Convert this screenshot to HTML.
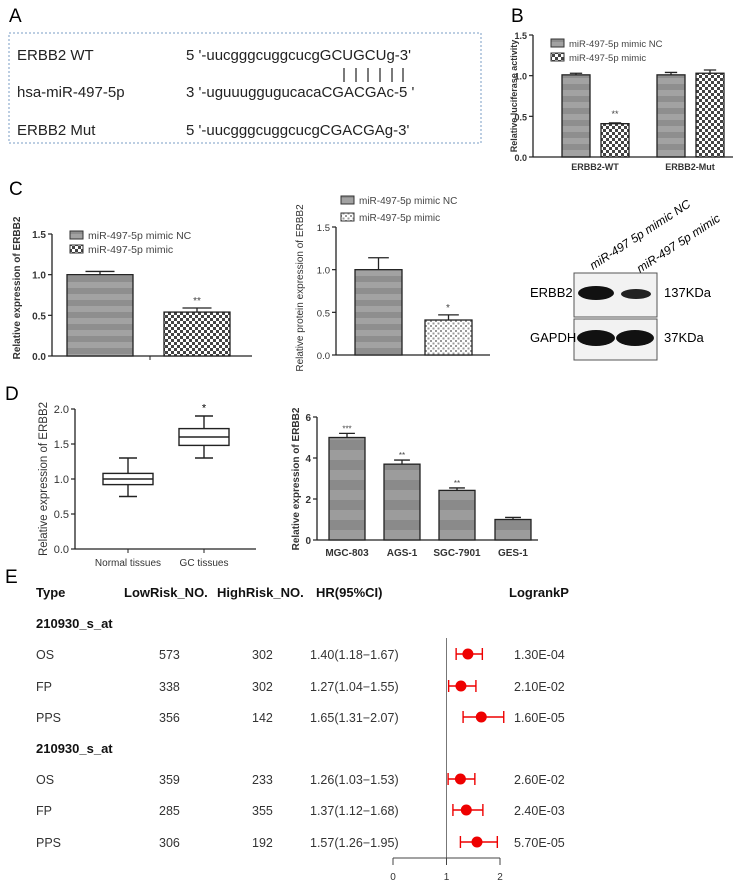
<!DOCTYPE html>
<html><head><meta charset="utf-8"><style>
html,body{margin:0;padding:0;background:#fff;}
svg{display:block;font-family:"Liberation Sans",Arial,sans-serif;}
.nar{font-family:"Liberation Sans Narrow","Liberation Sans",sans-serif;}
</style></head><body>
<svg id="fig" width="745" height="888" viewBox="0 0 745 888" xmlns="http://www.w3.org/2000/svg">
<defs>
<pattern id="ncpat" width="6" height="12" patternUnits="userSpaceOnUse"><rect width="6" height="6" fill="#8e8e8e"/><rect y="6" width="6" height="6" fill="#a2a2a2"/></pattern>
<pattern id="chk" width="6" height="6" patternUnits="userSpaceOnUse"><rect width="6" height="6" fill="#fff"/><rect width="3" height="3" fill="#444"/><rect x="3" y="3" width="3" height="3" fill="#444"/></pattern>
<pattern id="chk2" width="5" height="5" patternUnits="userSpaceOnUse"><rect width="5" height="5" fill="#fff"/><rect width="2" height="2" fill="#999"/><rect x="2.5" y="2.5" width="2" height="2" fill="#999"/></pattern>
<pattern id="dpat" width="6" height="20" patternUnits="userSpaceOnUse"><rect width="6" height="10" fill="#8a8a8a"/><rect y="10" width="6" height="10" fill="#9c9c9c"/></pattern>
</defs>

<!-- Panel A -->
<text x="9" y="22" font-size="19">A</text>
<rect x="9" y="33" width="472" height="110" fill="none" stroke="#7a9cc6" stroke-width="1" stroke-dasharray="2,2"/>
<g font-size="15" fill="#222">
<text x="17" y="60">ERBB2 WT</text>
<text x="186" y="60">5 '-uucgggcuggcucgGCUGCUg-3'</text>
<text x="17" y="97">hsa-miR-497-5p</text>
<text x="186" y="97">3 '-uguuuggugucacaCGACGAc-5 '</text>
<text x="17" y="135">ERBB2 Mut</text>
<text x="186" y="135">5 '-uucgggcuggcucgCGACGAg-3'</text>
<g stroke="#222" stroke-width="1.2">
<line x1="344" y1="68" x2="344" y2="82"/><line x1="356" y1="68" x2="356" y2="82"/><line x1="368" y1="68" x2="368" y2="82"/><line x1="380" y1="68" x2="380" y2="82"/><line x1="392" y1="68" x2="392" y2="82"/><line x1="403" y1="68" x2="403" y2="82"/>
</g></g>

<text x="511" y="22" font-size="19">B</text>
<text x="9" y="195" font-size="19">C</text>
<text x="5" y="400" font-size="19">D</text>
<text x="5" y="583" font-size="19">E</text>

<!-- Western blot -->
<g>
<text x="0" y="0" font-size="12" font-style="italic" transform="translate(593,270) rotate(-33)">miR-497 5p mimic NC</text>
<text x="0" y="0" font-size="12" font-style="italic" transform="translate(640,273) rotate(-33)">miR-497 5p mimic</text>
<rect x="574" y="273" width="83" height="44" fill="#f2f2f2" stroke="#555"/>
<rect x="574" y="319" width="83" height="41" fill="#f2f2f2" stroke="#555"/>
<ellipse cx="596" cy="293" rx="18" ry="7" fill="#111"/>
<ellipse cx="636" cy="294" rx="15" ry="5" fill="#222"/>
<ellipse cx="596" cy="338" rx="19" ry="8" fill="#111"/>
<ellipse cx="635" cy="338" rx="19" ry="8" fill="#111"/>
<text x="530" y="297" font-size="13">ERBB2</text>
<text x="530" y="342" font-size="13">GAPDH</text>
<text x="664" y="297" font-size="13">137KDa</text>
<text x="664" y="342" font-size="13">37KDa</text>
</g>
<g id="dyn"></g>
</svg>
<script>
// ---- data ----
var bCategories = ["ERBB2-WT","ERBB2-Mut"];
var bNC = [1.01, 1.01];
var bNCErr = [0.02, 0.03];
var bMimic = [0.41, 1.03];
var bMimicErr = [0.01, 0.04];
var bTicks = [0, 0.5, 1.0, 1.5];

var c1Values = [1.0, 0.54];
var c1Err = [0.04, 0.05];
var c1Stars = ["", "**"];
var c2Values = [1.0, 0.41];
var c2Err = [0.14, 0.06];
var c2Stars = ["", "*"];
var cTicks = [0, 0.5, 1.0, 1.5];

var dBoxCategories = ["Normal tissues","GC tissues"];
var dBoxMin = [0.75, 1.3];
var dBoxQ1 = [0.92, 1.48];
var dBoxMed = [1.0, 1.6];
var dBoxQ3 = [1.08, 1.72];
var dBoxMax = [1.3, 1.9];
var dBoxTicks = [0, 0.5, 1.0, 1.5, 2.0];

var dCells = ["MGC-803","AGS-1","SGC-7901","GES-1"];
var dCellValues = [5.0, 3.7, 2.42, 1.0];
var dCellErr = [0.2, 0.2, 0.12, 0.1];
var dCellStars = ["***","**","**",""];
var dCellTicks = [0, 2, 4, 6];

var eTypes = ["OS","FP","PPS","OS","FP","PPS"];
var eLow = [573, 338, 356, 359, 285, 306];
var eHigh = [302, 302, 142, 233, 355, 192];
var eHR = [1.40, 1.27, 1.65, 1.26, 1.37, 1.57];
var eLo = [1.18, 1.04, 1.31, 1.03, 1.12, 1.26];
var eHi = [1.67, 1.55, 2.07, 1.53, 1.68, 1.95];
var eP = ["1.30E-04","2.10E-02","1.60E-05","2.60E-02","2.40E-03","5.70E-05"];
var eTicks = [0, 1, 2];

var NS = "http://www.w3.org/2000/svg";
var root = document.getElementById("dyn");
function mk(tag, a, parent) {
  var e = document.createElementNS(NS, tag);
  for (var k in a) e.setAttribute(k, a[k]);
  (parent || root).appendChild(e);
  return e;
}
function txt(s, a, parent) { var e = mk("text", a, parent); e.textContent = s; return e; }
function lin(y0, y1, p0, p1) { return function (v) { return p0 + (v - y0) / (y1 - y0) * (p1 - p0); }; }

function yAxis(g, x, ys, ticks, xEnd, fs, bold, fmt) {
  var el = mk("line", {x1: x, y1: ys(ticks[ticks.length - 1]), x2: x, y2: ys(ticks[0]), stroke: "#222", "stroke-width": 1.3}, g);
  
  
  el = mk("line", {x1: x, y1: ys(ticks[0]), x2: xEnd, y2: ys(ticks[0]), stroke: "#222", "stroke-width": 1.3}, g);
  
  
  ticks.forEach(function (t) {
    var tk = mk("line", {x1: x - 4, y1: ys(t), x2: x, y2: ys(t), stroke: "#222", "stroke-width": 1.2}, g);
    
    
    var tl = txt(fmt(t), {x: x - 6, y: ys(t) + 4, "font-size": fs, "text-anchor": "end", "font-weight": bold ? "bold" : "normal", fill: "#333"}, g);
    
    
  });
}
function f1(t) { return t.toFixed(1); }
function f0(t) { return String(t); }

function bar(g, x, w, ys, v, err, fill, name) {
  var r = mk("rect", {x: x, y: ys(v), width: w, height: ys(0) - ys(v), fill: fill, stroke: "#222", "stroke-width": 1.3}, g);
  
  
  var cx = x + w / 2;
  var e = mk("path", {d: "M" + cx + " " + ys(v) + "V" + ys(v + err) + "M" + (cx - w * 0.22) + " " + ys(v + err) + "H" + (cx + w * 0.22), stroke: "#222", "stroke-width": 1.3, fill: "none"}, g);
  
  
  return r;
}
function ylabel(g, s, x, y, fs, bold) {
  var t = txt(s, {x: 0, y: 0, "font-size": fs, "font-weight": bold ? "bold" : "normal", "text-anchor": "middle", fill: "#333", transform: "translate(" + x + "," + y + ") rotate(-90)"}, g);
  
  
}
function legend(g, x, y, fill, s, fs) {
  var r = mk("rect", {x: x, y: y - 5, width: 13, height: 8, fill: fill, stroke: "#333"}, g);
  
  
  var t = txt(s, {x: x + 18, y: y + 3, "font-size": fs, fill: "#444"}, g);
  
  
}

// ---- Panel B ----
var gB = mk("g", {});


var yB = lin(0, 1.5, 157, 35);
yAxis(gB, 533, yB, bTicks, 733, 9, true, f1);
ylabel(gB, "Relative luciferase activity", 517, 96, 9, true);
var bGroupX = [562, 657];
bCategories.forEach(function (c, i) {
  bar(gB, bGroupX[i], 28, yB, bNC[i], bNCErr[i], "url(#ncpat)", "bar-nc-" + c.toLowerCase());
  bar(gB, bGroupX[i] + 39, 28, yB, bMimic[i], bMimicErr[i], "url(#chk)", "bar-mimic-" + c.toLowerCase());
  var l = txt(c, {x: bGroupX[i] + 33, y: 170, "font-size": 9, "font-weight": "bold", "text-anchor": "middle", fill: "#333"}, gB);
  
  
});
var sB = txt("**", {x: 615, y: yB(bMimic[0] + bMimicErr[0]) - 6, "font-size": 9, "text-anchor": "middle", fill: "#444"}, gB);


legend(gB, 551, 44, "url(#ncpat)", "miR-497-5p mimic NC", 9.5);
legend(gB, 551, 58, "url(#chk)", "miR-497-5p mimic", 9.5);

// ---- Panel C chart 1 ----
var gC1 = mk("g", {});


var yC1 = lin(0, 1.5, 356, 234);
yAxis(gC1, 52, yC1, cTicks, 252, 10, true, f1);
var tk = mk("line", {x1: 150, y1: 356, x2: 150, y2: 360, stroke: "#222"}, gC1);


ylabel(gC1, "Relative expression of ERBB2", 20, 288, 10, true);
var c1X = [67, 164];
var c1Fill = ["url(#ncpat)", "url(#chk)"];
c1Values.forEach(function (v, i) {
  bar(gC1, c1X[i], 66, yC1, v, c1Err[i], c1Fill[i], "bar-c1-" + i);
  if (c1Stars[i]) {
    var s = txt(c1Stars[i], {x: c1X[i] + 33, y: yC1(v + c1Err[i]) - 4, "font-size": 10, "text-anchor": "middle", fill: "#444"}, gC1);
    
    
  }
});
legend(gC1, 70, 236, "url(#ncpat)", "miR-497-5p mimic NC", 10.5);
legend(gC1, 70, 250, "url(#chk)", "miR-497-5p mimic", 10.5);

// ---- Panel C chart 2 ----
var gC2 = mk("g", {});


var yC2 = lin(0, 1.5, 355, 227);
yAxis(gC2, 336, yC2, cTicks, 490, 9.5, false, f1);
ylabel(gC2, "Relative protein expression of ERBB2", 303, 288, 10, false);
var c2X = [355, 425];
var c2Fill = ["url(#ncpat)", "url(#chk2)"];
c2Values.forEach(function (v, i) {
  bar(gC2, c2X[i], 47, yC2, v, c2Err[i], c2Fill[i], "bar-c2-" + i);
  if (c2Stars[i]) {
    var s = txt(c2Stars[i], {x: c2X[i] + 23, y: yC2(v + c2Err[i]) - 4, "font-size": 10, "text-anchor": "middle", fill: "#444"}, gC2);
    
    
  }
});
legend(gC2, 341, 201, "url(#ncpat)", "miR-497-5p mimic NC", 10);
legend(gC2, 341, 218, "url(#chk2)", "miR-497-5p mimic", 10);

// ---- Panel D box plot ----
var gD1 = mk("g", {});


var yD1 = lin(0, 2.0, 549, 409);
yAxis(gD1, 75, yD1, dBoxTicks, 256, 11, false, f1);
ylabel(gD1, "Relative expression of ERBB2", 47, 479, 11.5, false);
var dBoxX = [128, 204];
dBoxCategories.forEach(function (c, i) {
  var cx = dBoxX[i], hw = 25;
  var p = mk("path", {d: "M" + cx + " " + yD1(dBoxMax[i]) + "V" + yD1(dBoxQ3[i]) + "M" + cx + " " + yD1(dBoxQ1[i]) + "V" + yD1(dBoxMin[i]) +
    "M" + (cx - 9) + " " + yD1(dBoxMax[i]) + "H" + (cx + 9) + "M" + (cx - 9) + " " + yD1(dBoxMin[i]) + "H" + (cx + 9) +
    "M" + (cx - hw) + " " + yD1(dBoxMed[i]) + "H" + (cx + hw), stroke: "#222", "stroke-width": 1.4, fill: "none"}, gD1);
  
  
  var r = mk("rect", {x: cx - hw, y: yD1(dBoxQ3[i]), width: hw * 2, height: yD1(dBoxQ1[i]) - yD1(dBoxQ3[i]), fill: "none", stroke: "#222", "stroke-width": 1.4}, gD1);
  
  
  var t = mk("line", {x1: cx, y1: 549, x2: cx, y2: 553, stroke: "#222"}, gD1);
  
  
  var l = txt(c, {x: cx, y: 566, "font-size": 10, "text-anchor": "middle", fill: "#333"}, gD1);
  
  
});
var sD = txt("*", {x: 204, y: yD1(2.05) + 6, "font-size": 11, "text-anchor": "middle"}, gD1);



// ---- Panel D cell lines ----
var gD2 = mk("g", {});


var yD2 = lin(0, 6, 540, 417);
yAxis(gD2, 317, yD2, dCellTicks, 538, 10, true, f0);
ylabel(gD2, "Relative expression of ERBB2", 299, 479, 10, true);
var dCellX = [329, 384, 439, 495];
dCells.forEach(function (c, i) {
  bar(gD2, dCellX[i], 36, yD2, dCellValues[i], dCellErr[i], "url(#dpat)", "bar-" + c.toLowerCase());
  if (dCellStars[i]) {
    var s = txt(dCellStars[i], {x: dCellX[i] + 18, y: yD2(dCellValues[i] + dCellErr[i]) - 2, "font-size": 8, "text-anchor": "middle", fill: "#444"}, gD2);
    
    
  }
  var l = txt(c, {x: dCellX[i] + 18, y: 556, "font-size": 10, "font-weight": "bold", "text-anchor": "middle", fill: "#333"}, gD2);
  
  
});

// ---- Panel E forest plot ----
var gE = mk("g", {"class": "nar"});


var xE = lin(0, 2, 393, 500);
var rowY = [654, 686, 717, 779, 810, 842];
var heads = [["Type", 36], ["LowRisk_NO.", 124], ["HighRisk_NO.", 217], ["HR(95%CI)", 316], ["LogrankP", 509]];
heads.forEach(function (h) {
  var t = txt(h[0], {x: h[1], y: 597, "font-size": 13, "font-weight": "bold", fill: "#111"}, gE);
  
  
});
[628, 753].forEach(function (y) {
  var t = txt("210930_s_at", {x: 36, y: y, "font-size": 13, "font-weight": "bold", fill: "#111"}, gE);
  
  
});
var vl = mk("line", {x1: xE(1), y1: 638, x2: xE(1), y2: 858, stroke: "#777", "stroke-width": 1}, gE);


var ax = mk("line", {x1: xE(0), y1: 858, x2: xE(2), y2: 858, stroke: "#444", "stroke-width": 1}, gE);


eTicks.forEach(function (t) {
  var k = mk("line", {x1: xE(t), y1: 858, x2: xE(t), y2: 865, stroke: "#444"}, gE);
  
  
  var l = txt(String(t), {x: xE(t), y: 880, "font-size": 10, "text-anchor": "middle", fill: "#333"}, gE);
  
  
});
eTypes.forEach(function (ty, i) {
  var y = rowY[i];
  var cols = [[ty, 36], [String(eLow[i]), 159], [String(eHigh[i]), 252], [eHR[i].toFixed(2) + "(" + eLo[i].toFixed(2) + "\u2212" + eHi[i].toFixed(2) + ")", 310], [eP[i], 514]];
  cols.forEach(function (c) {
    var t = txt(c[0], {x: c[1], y: y + 5, "font-size": 12.5, fill: "#333"}, gE);
    
    
  });
  var ci = mk("path", {d: "M" + xE(eLo[i]) + " " + y + "H" + xE(eHi[i]) + "M" + xE(eLo[i]) + " " + (y - 6) + "V" + (y + 6) + "M" + xE(eHi[i]) + " " + (y - 6) + "V" + (y + 6), stroke: "#e00", "stroke-width": 1.4, fill: "none"}, gE);
  
  
  var pt = mk("circle", {cx: xE(eHR[i]), cy: y, r: 5.5, fill: "#e00"}, gE);
  
  
});
</script>
</body></html>
